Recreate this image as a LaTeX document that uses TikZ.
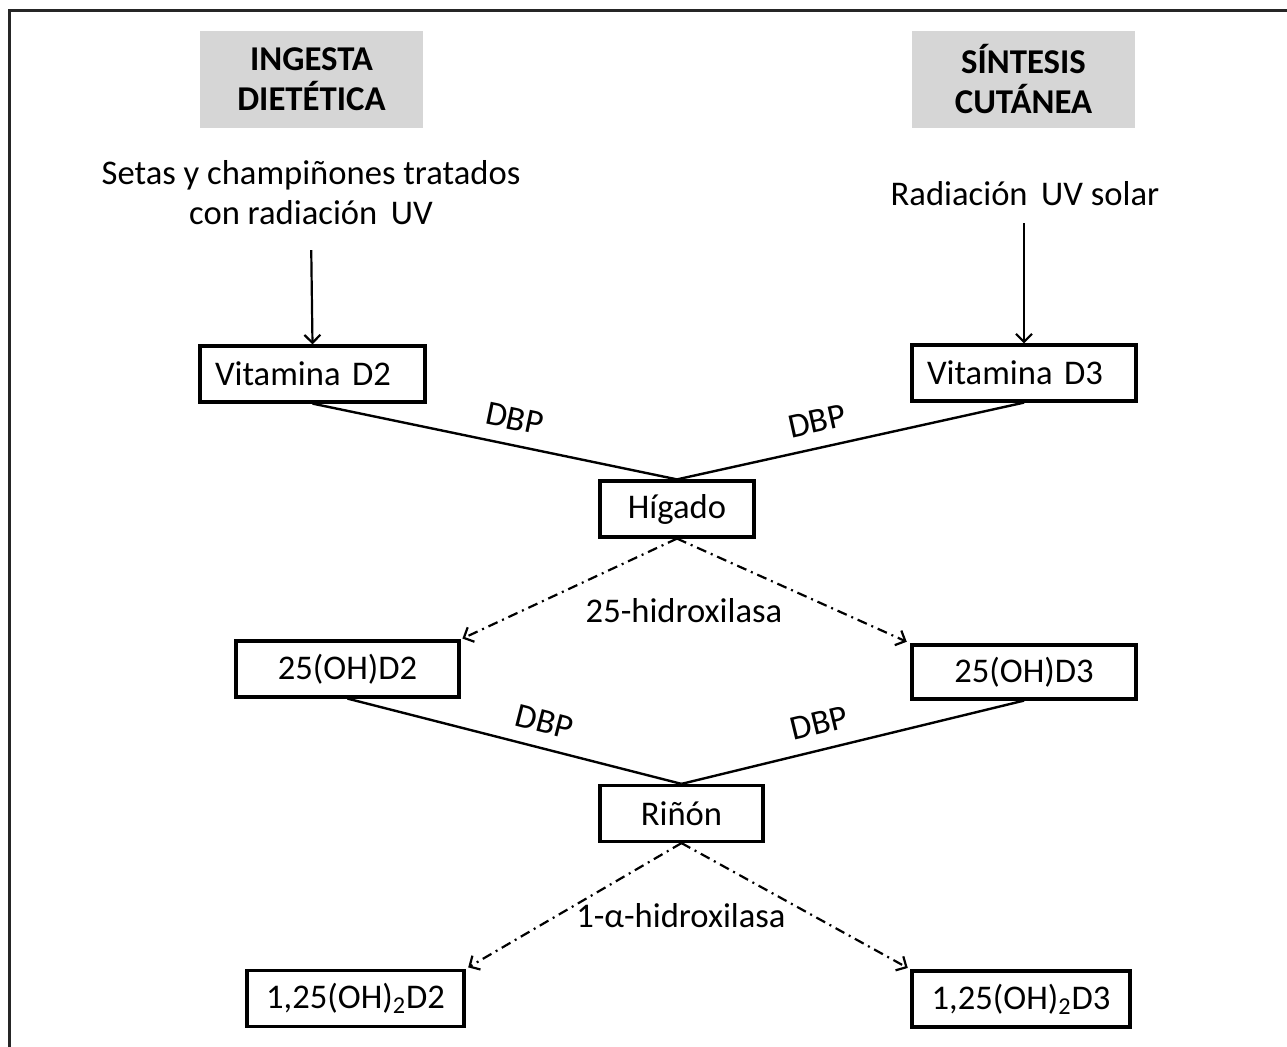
\documentclass[tikz,border=0pt]{standalone}
\usepackage{fontspec}
\setmainfont{Carlito}
\usepackage{tikz}
\usetikzlibrary{positioning,arrows.meta}
\definecolor{headgray}{HTML}{D6D6D6}

\tikzset{
  every node/.style={font=\fontsize{17.3}{20}\selectfont},
  head/.style={fill=headgray, minimum width=111.5pt, minimum height=48.5pt,
    align=center, font=\fontsize{17.4}{20}\selectfont\bfseries},
  caja/.style={draw, line width=1.6pt, minimum height=28pt, inner sep=0pt},
  cajaizq/.style={caja, align=left, inner xsep=7.5pt},
  enlace/.style={line width=1.2pt},
  flecha/.style={line width=1.1pt, -{Straight Barb[length=4pt,width=8pt]}},
  enzima/.style={flecha, dash pattern=on 5pt off 2.5pt on 1pt off 2.5pt},
  dbp/.style={sloped, above=5pt, inner sep=2pt}
}

\begin{document}
\begin{tikzpicture}[x=0.5pt, y=-0.5pt]
  \useasboundingbox (0,0) rectangle (1287,1047);
  % marco
  \draw[line width=1.5pt, draw=black!85] (9.5,1047) -- (9.5,10.5) -- (1287,10.5);

  % cabeceras
  \node[head] (ingesta) at (311.5,79.5) {INGESTA\\DIETÉTICA};
  \node[head] (sintesis) at (1023.5,79.5) {SÍNTESIS\\CUTÁNEA};

  % fuentes
  \node[align=center] (setas) at (311,193) {Setas y champiñones tratados\\con radiación\, UV};
  \node (solar) at (1025,194) {Radiación\, UV solar};

  % cajas
  \node[cajaizq, text width=97.5pt] (vd2) at (312.5,374) {Vitamina D2};
  \node[cajaizq, text width=97pt] (vd3) at (1024,373) {Vitamina D3};
  \node[caja, minimum width=77pt] (hig) at (677,509) {Hígado};
  \node[caja, minimum width=111.5pt] (d25a) at (347.5,669) {25(OH)D2};
  \node[caja, minimum width=112pt, minimum height=27pt] (d25b) at (1024,672) {25(OH)D3};
  \node[caja, minimum width=81.5pt] (rin) at (681.5,813.5) {Riñón};
  \node[caja, minimum width=108.5pt] (d125a) at (355.5,998.5) {1,25(OH)\textsubscript{2}D2};
  \node[caja, minimum width=109pt] (d125b) at (1021,999) {1,25(OH)\textsubscript{2}D3};

  % conexiones
  \draw[flecha, shorten <=9pt] (setas.south) -- (vd2.north);
  \draw[flecha, shorten <=5pt] (solar.south -| vd3.north) -- (vd3.north);
  \draw[enlace] (vd2.south) -- node[dbp, pos=0.54]{DBP} (hig.north);
  \draw[enlace] (hig.north) -- node[dbp, pos=0.42]{DBP} (vd3.south);
  \draw[enzima, shorten >=1pt] (hig.south) -- (d25a.north east);
  \draw[enzima, shorten >=2pt] (hig.south) -- (d25b.north west);
  \node (hidro25) at (684,611) {25-hidroxilasa};
  \draw[enlace] (d25a.south) -- node[dbp, pos=0.57]{DBP} (rin.north);
  \draw[enlace] (rin.north) -- node[dbp, pos=0.42]{DBP} (d25b.south);
  \draw[enzima, shorten >=1.5pt] (rin.south) -- (d125a.north east);
  \draw[enzima, shorten >=1.5pt] (rin.south) -- (d125b.north west);
  \node (hidro1) at (681,916) {1-α-hidroxilasa};
\end{tikzpicture}
\end{document}
